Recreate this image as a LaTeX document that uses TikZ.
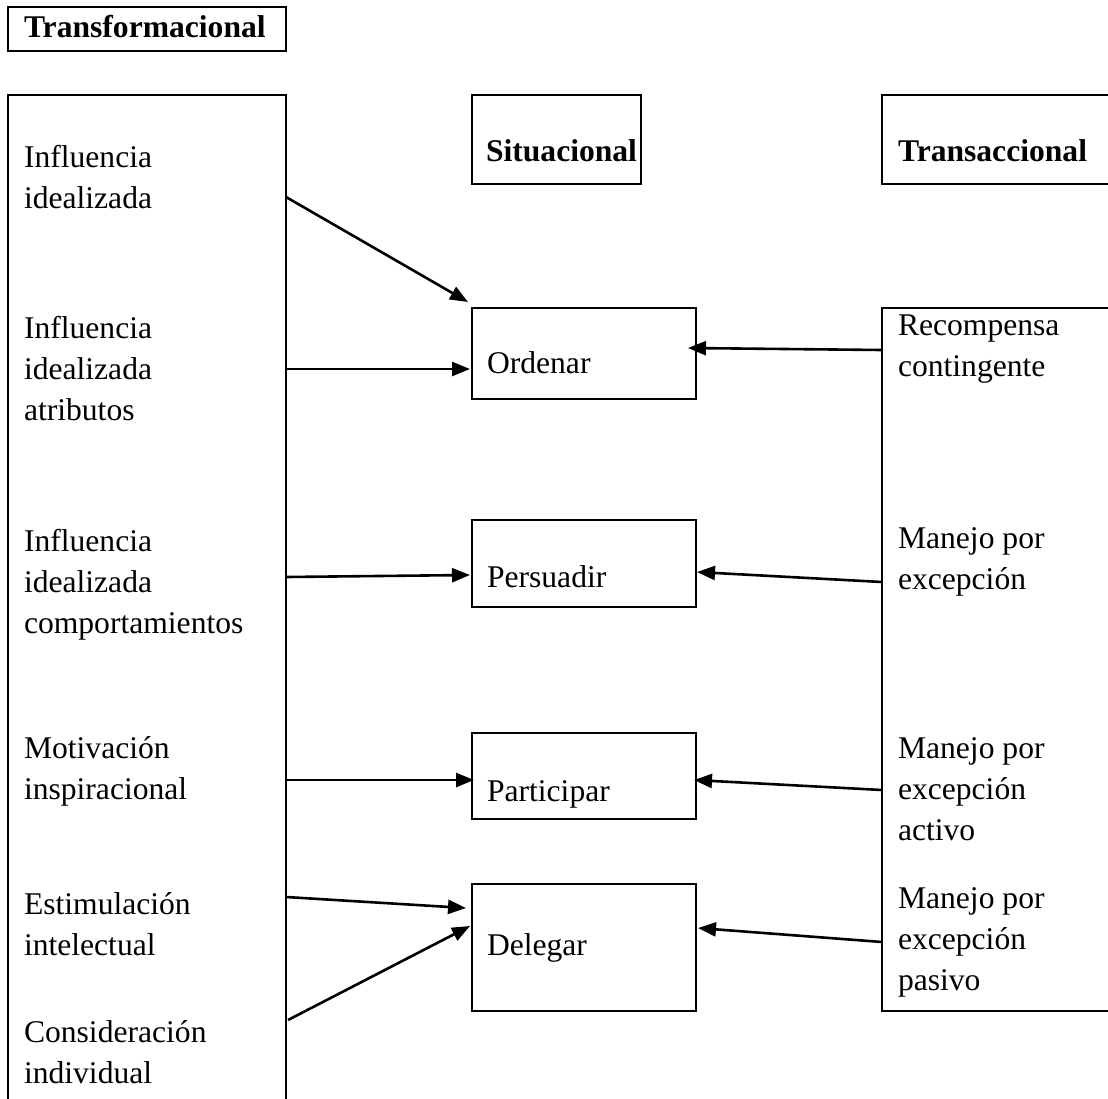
\documentclass[tikz,border=0pt]{standalone}
\usepackage{fontspec}
\setmainfont{Liberation Serif}
\usetikzlibrary{arrows.meta,calc}
\newcommand\txtlines[1]{\begin{tabular}[t]{@{}l@{}}#1\end{tabular}}
\begin{document}
\begin{tikzpicture}[x=1pt,y=-1pt,
  font=\fontsize{31.6}{41}\selectfont,
  frame/.style={draw, line width=2.8pt, inner sep=0pt, outer sep=0pt, anchor=north west},
  label/.style={anchor=base west, inner sep=0pt, outer sep=0pt},
  conn/.style={line width=2.6pt, -{Triangle[length=18pt,width=14pt]}}]
\useasboundingbox (0,0) rectangle (1108,1098);
\clip (0,0) rectangle (1108,1098);

% column frames and headings
\node[frame, minimum width=278, minimum height=44] (hT) at (8,7) {};
\node[label] (tT) at (24,37) {\bfseries Transformacional};
\node[frame, minimum width=278, minimum height=1120] (L) at (8,95) {};
\node[frame, minimum width=169, minimum height=89] (hS) at (472,95) {};
\node[label] (tS) at (486,161) {\bfseries Situacional};
\node[frame, minimum width=300, minimum height=89] (hR) at (882,95) {};
\node[label] (tR) at (898,161) {\bfseries Transaccional};
\node[frame, minimum width=300, minimum height=703] (R) at (882,308) {};

% styles in the middle column
\node[frame, minimum width=224, minimum height=91] (ord) at (472,308) {};
\node[label] (tord) at (487,373) {Ordenar};
\node[frame, minimum width=224, minimum height=87] (per) at (472,520) {};
\node[label] (tper) at (487,587) {Persuadir};
\node[frame, minimum width=224, minimum height=86] (par) at (472,733) {};
\node[label] (tpar) at (487,801) {Participar};
\node[frame, minimum width=224, minimum height=127] (del) at (472,884) {};
\node[label] (tdel) at (487,955) {Delegar};

% transformational factors
\node[label] (l1) at (24,167) {\txtlines{Influencia\\idealizada}};
\node[label] (l2) at (24,338) {\txtlines{Influencia\\idealizada\\atributos}};
\node[label] (l3) at (24,551) {\txtlines{Influencia\\idealizada\\comportamientos}};
\node[label] (l4) at (24,758) {\txtlines{Motivación\\inspiracional}};
\node[label] (l5) at (24,914) {\txtlines{Estimulación\\intelectual}};
\node[label] (l6) at (24,1042) {\txtlines{Consideración\\individual}};

% transactional factors
\node[label] (r1) at (898,335) {\txtlines{Recompensa\\contingente}};
\node[label] (r2) at (898,548) {\txtlines{Manejo por\\excepción}};
\node[label] (r3) at (898,758) {\txtlines{Manejo por\\excepción\\activo}};
\node[label] (r4) at (898,908) {\txtlines{Manejo por\\excepción\\pasivo}};

% connectors
\draw[conn] ($(L.north east)+(0,102)$) -- ($(ord.north west)+(-4,-6)$);
\draw[conn] ($(L.north east)+(0,274)$) -- ($(ord.north west)+(-2,61)$);
\draw[conn] ($(R.north west)+(0,42)$) -- ($(ord.north east)+(-8,40)$);
\draw[conn] ($(L.north east)+(0,482)$) -- ($(per.north west)+(-2,55)$);
\draw[conn] ($(R.north west)+(0,274)$) -- ($(per.north east)+(1,52)$);
\draw[conn] ($(L.north east)+(0,685)$) -- ($(par.north west)+(2,47)$);
\draw[conn] ($(R.north west)+(0,482)$) -- ($(par.north east)+(-2,47)$);
\draw[conn] ($(L.north east)+(0,802)$) -- ($(del.north west)+(-6,24)$);
\draw[conn] ($(L.north east)+(2,925)$) -- ($(del.north west)+(-2,42)$);
\draw[conn] ($(R.north west)+(0,634)$) -- ($(del.north east)+(2,44)$);
\end{tikzpicture}
\end{document}
